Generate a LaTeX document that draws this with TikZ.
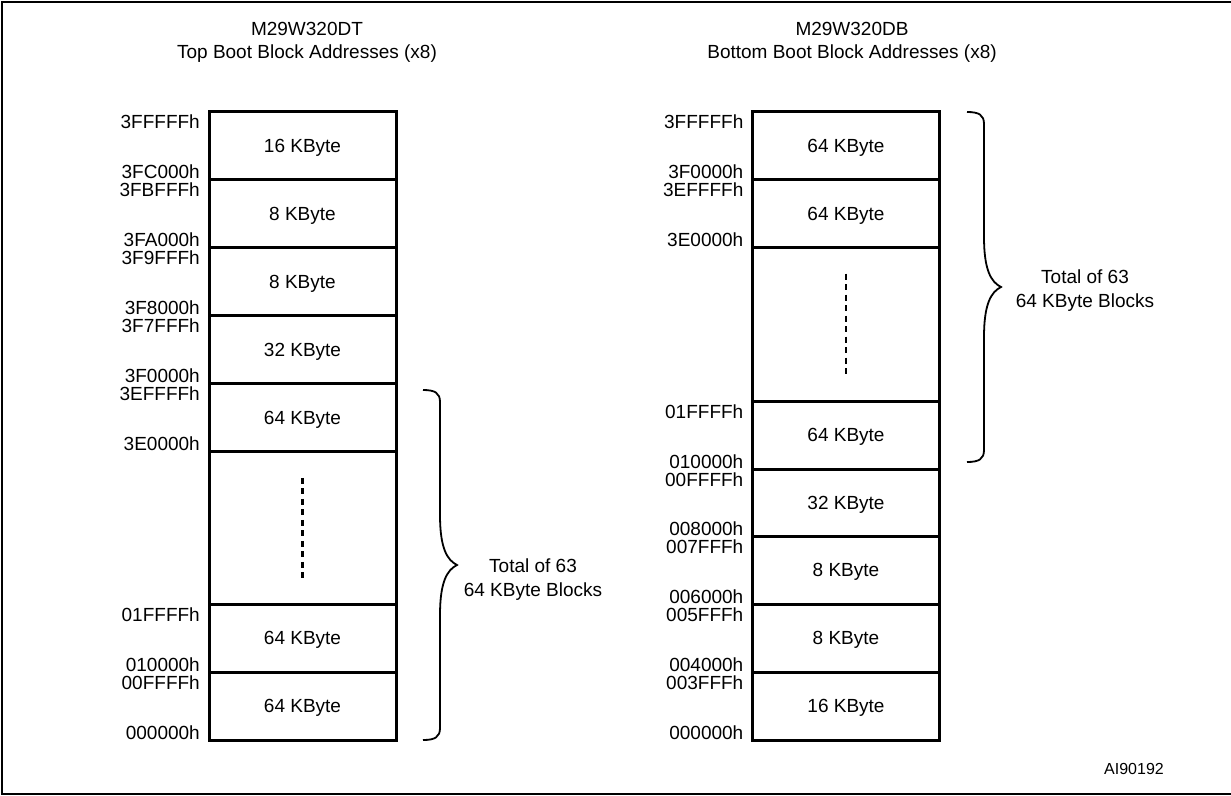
\documentclass[tikz,border=0pt]{standalone}
\usepackage{fontspec}
\setmainfont{Liberation Sans}
\begin{document}
\begin{tikzpicture}[x=1pt,y=-1pt,
  font=\fontsize{19}{23}\selectfont,
  blk/.style={draw, line width=3pt, inner sep=0pt, outer sep=0pt, minimum width=187pt, text depth=0pt},
  addr/.style={inner sep=0pt, anchor=base east},
  txt/.style={inner sep=0pt, anchor=base},
  dots/.style={line width=2.5pt, dash pattern=on 6pt off 4.5pt},
  cbrace/.pic={\draw[line width=1.8pt] (0,0) .. controls (12,0) and (17,3) .. (17,12) -- (17,125)
      .. controls (17,158) and (24,170) .. (34,175)
      .. controls (24,180) and (17,192) .. (17,225) -- (17,338)
      .. controls (17,347) and (12,350) .. (0,350);}
]
\useasboundingbox (0,0) rectangle (1231,795);
% frame
\draw[line width=2pt] (1240,1.5) -- (2,1.5) -- (2,793.5) -- (1240,793.5);

% titles
\node[txt] (tL1) at (307,35) {M29W320DT};
\node[txt] (tL2) at (307,58) {Top Boot Block Addresses (x8)};
\node[txt] (tR1) at (852,35) {M29W320DB};
\node[txt] (tR2) at (852,58) {Bottom Boot Block Addresses (x8)};

% left column
\node[blk, minimum height=68pt] (L1) at (302.5,145.5) {16 KByte};
\node[blk, minimum height=68pt] (L2) at (302.5,213.5) {8 KByte};
\node[blk, minimum height=68pt] (L3) at (302.5,281.5) {8 KByte};
\node[blk, minimum height=68pt] (L4) at (302.5,349.5) {32 KByte};
\node[blk, minimum height=68pt] (L5) at (302.5,417.5) {64 KByte};
\node[blk, minimum height=152.5pt] (L6) at (302.5,527.75) {};
\node[blk, minimum height=68pt] (L7) at (302.5,638) {64 KByte};
\node[blk, minimum height=68pt] (L8) at (302.5,706) {64 KByte};
\draw[dots] ([yshift=50pt]L6.center) -- ([yshift=-50pt]L6.center);

\node[addr] (aL1u) at ([xshift=-9pt,yshift=-17pt]L1.north west) {3FFFFFh};
\node[addr] (aL1l) at ([xshift=-9pt,yshift=1pt]L1.south west) {3FC000h};
\node[addr] (aL2u) at ([xshift=-9pt,yshift=-17pt]L2.north west) {3FBFFFh};
\node[addr] (aL2l) at ([xshift=-9pt,yshift=1pt]L2.south west) {3FA000h};
\node[addr] (aL3u) at ([xshift=-9pt,yshift=-17pt]L3.north west) {3F9FFFh};
\node[addr] (aL3l) at ([xshift=-9pt,yshift=1pt]L3.south west) {3F8000h};
\node[addr] (aL4u) at ([xshift=-9pt,yshift=-17pt]L4.north west) {3F7FFFh};
\node[addr] (aL4l) at ([xshift=-9pt,yshift=1pt]L4.south west) {3F0000h};
\node[addr] (aL5u) at ([xshift=-9pt,yshift=-17pt]L5.north west) {3EFFFFh};
\node[addr] (aL5l) at ([xshift=-9pt,yshift=1pt]L5.south west) {3E0000h};
\node[addr] (aL7u) at ([xshift=-9pt,yshift=-17pt]L7.north west) {01FFFFh};
\node[addr] (aL7l) at ([xshift=-9pt,yshift=1pt]L7.south west) {010000h};
\node[addr] (aL8u) at ([xshift=-9pt,yshift=-17pt]L8.north west) {00FFFFh};
\node[addr] (aL8l) at ([xshift=-9pt,yshift=1pt]L8.south west) {000000h};

\pic at (423,390) {cbrace};
\node[txt] (bL1) at (533,572) {Total of 63};
\node[txt] (bL2) at (533,596) {64 KByte Blocks};

% right column
\node[blk, minimum height=68pt] (R1) at (846,145.5) {64 KByte};
\node[blk, minimum height=68pt] (R2) at (846,213.5) {64 KByte};
\node[blk, minimum height=154pt] (R3) at (846,324.5) {};
\node[blk, minimum height=67.5pt] (R4) at (846,435.25) {64 KByte};
\node[blk, minimum height=67.5pt] (R5) at (846,502.75) {32 KByte};
\node[blk, minimum height=67.5pt] (R6) at (846,570.25) {8 KByte};
\node[blk, minimum height=68pt] (R7) at (846,638) {8 KByte};
\node[blk, minimum height=68pt] (R8) at (846,706) {16 KByte};
\draw[dots] ([yshift=51pt]R3.center) -- ([yshift=-51pt]R3.center);

\node[addr] (aR1u) at ([xshift=-9pt,yshift=-17pt]R1.north west) {3FFFFFh};
\node[addr] (aR1l) at ([xshift=-9pt,yshift=1pt]R1.south west) {3F0000h};
\node[addr] (aR2u) at ([xshift=-9pt,yshift=-17pt]R2.north west) {3EFFFFh};
\node[addr] (aR2l) at ([xshift=-9pt,yshift=1pt]R2.south west) {3E0000h};
\node[addr] (aR4u) at ([xshift=-9pt,yshift=-17pt]R4.north west) {01FFFFh};
\node[addr] (aR4l) at ([xshift=-9pt,yshift=1pt]R4.south west) {010000h};
\node[addr] (aR5u) at ([xshift=-9pt,yshift=-17pt]R5.north west) {00FFFFh};
\node[addr] (aR5l) at ([xshift=-9pt,yshift=1pt]R5.south west) {008000h};
\node[addr] (aR6u) at ([xshift=-9pt,yshift=-17pt]R6.north west) {007FFFh};
\node[addr] (aR6l) at ([xshift=-9pt,yshift=1pt]R6.south west) {006000h};
\node[addr] (aR7u) at ([xshift=-9pt,yshift=-17pt]R7.north west) {005FFFh};
\node[addr] (aR7l) at ([xshift=-9pt,yshift=1pt]R7.south west) {004000h};
\node[addr] (aR8u) at ([xshift=-9pt,yshift=-17pt]R8.north west) {003FFFh};
\node[addr] (aR8l) at ([xshift=-9pt,yshift=1pt]R8.south west) {000000h};

\pic at (967,112) {cbrace};
\node[txt] (bR1) at (1085,283) {Total of 63};
\node[txt] (bR2) at (1085,307) {64 KByte Blocks};

\node[addr, font=\fontsize{16}{19}\selectfont] (ai) at (1164,774) {AI90192};
\end{tikzpicture}
\end{document}
